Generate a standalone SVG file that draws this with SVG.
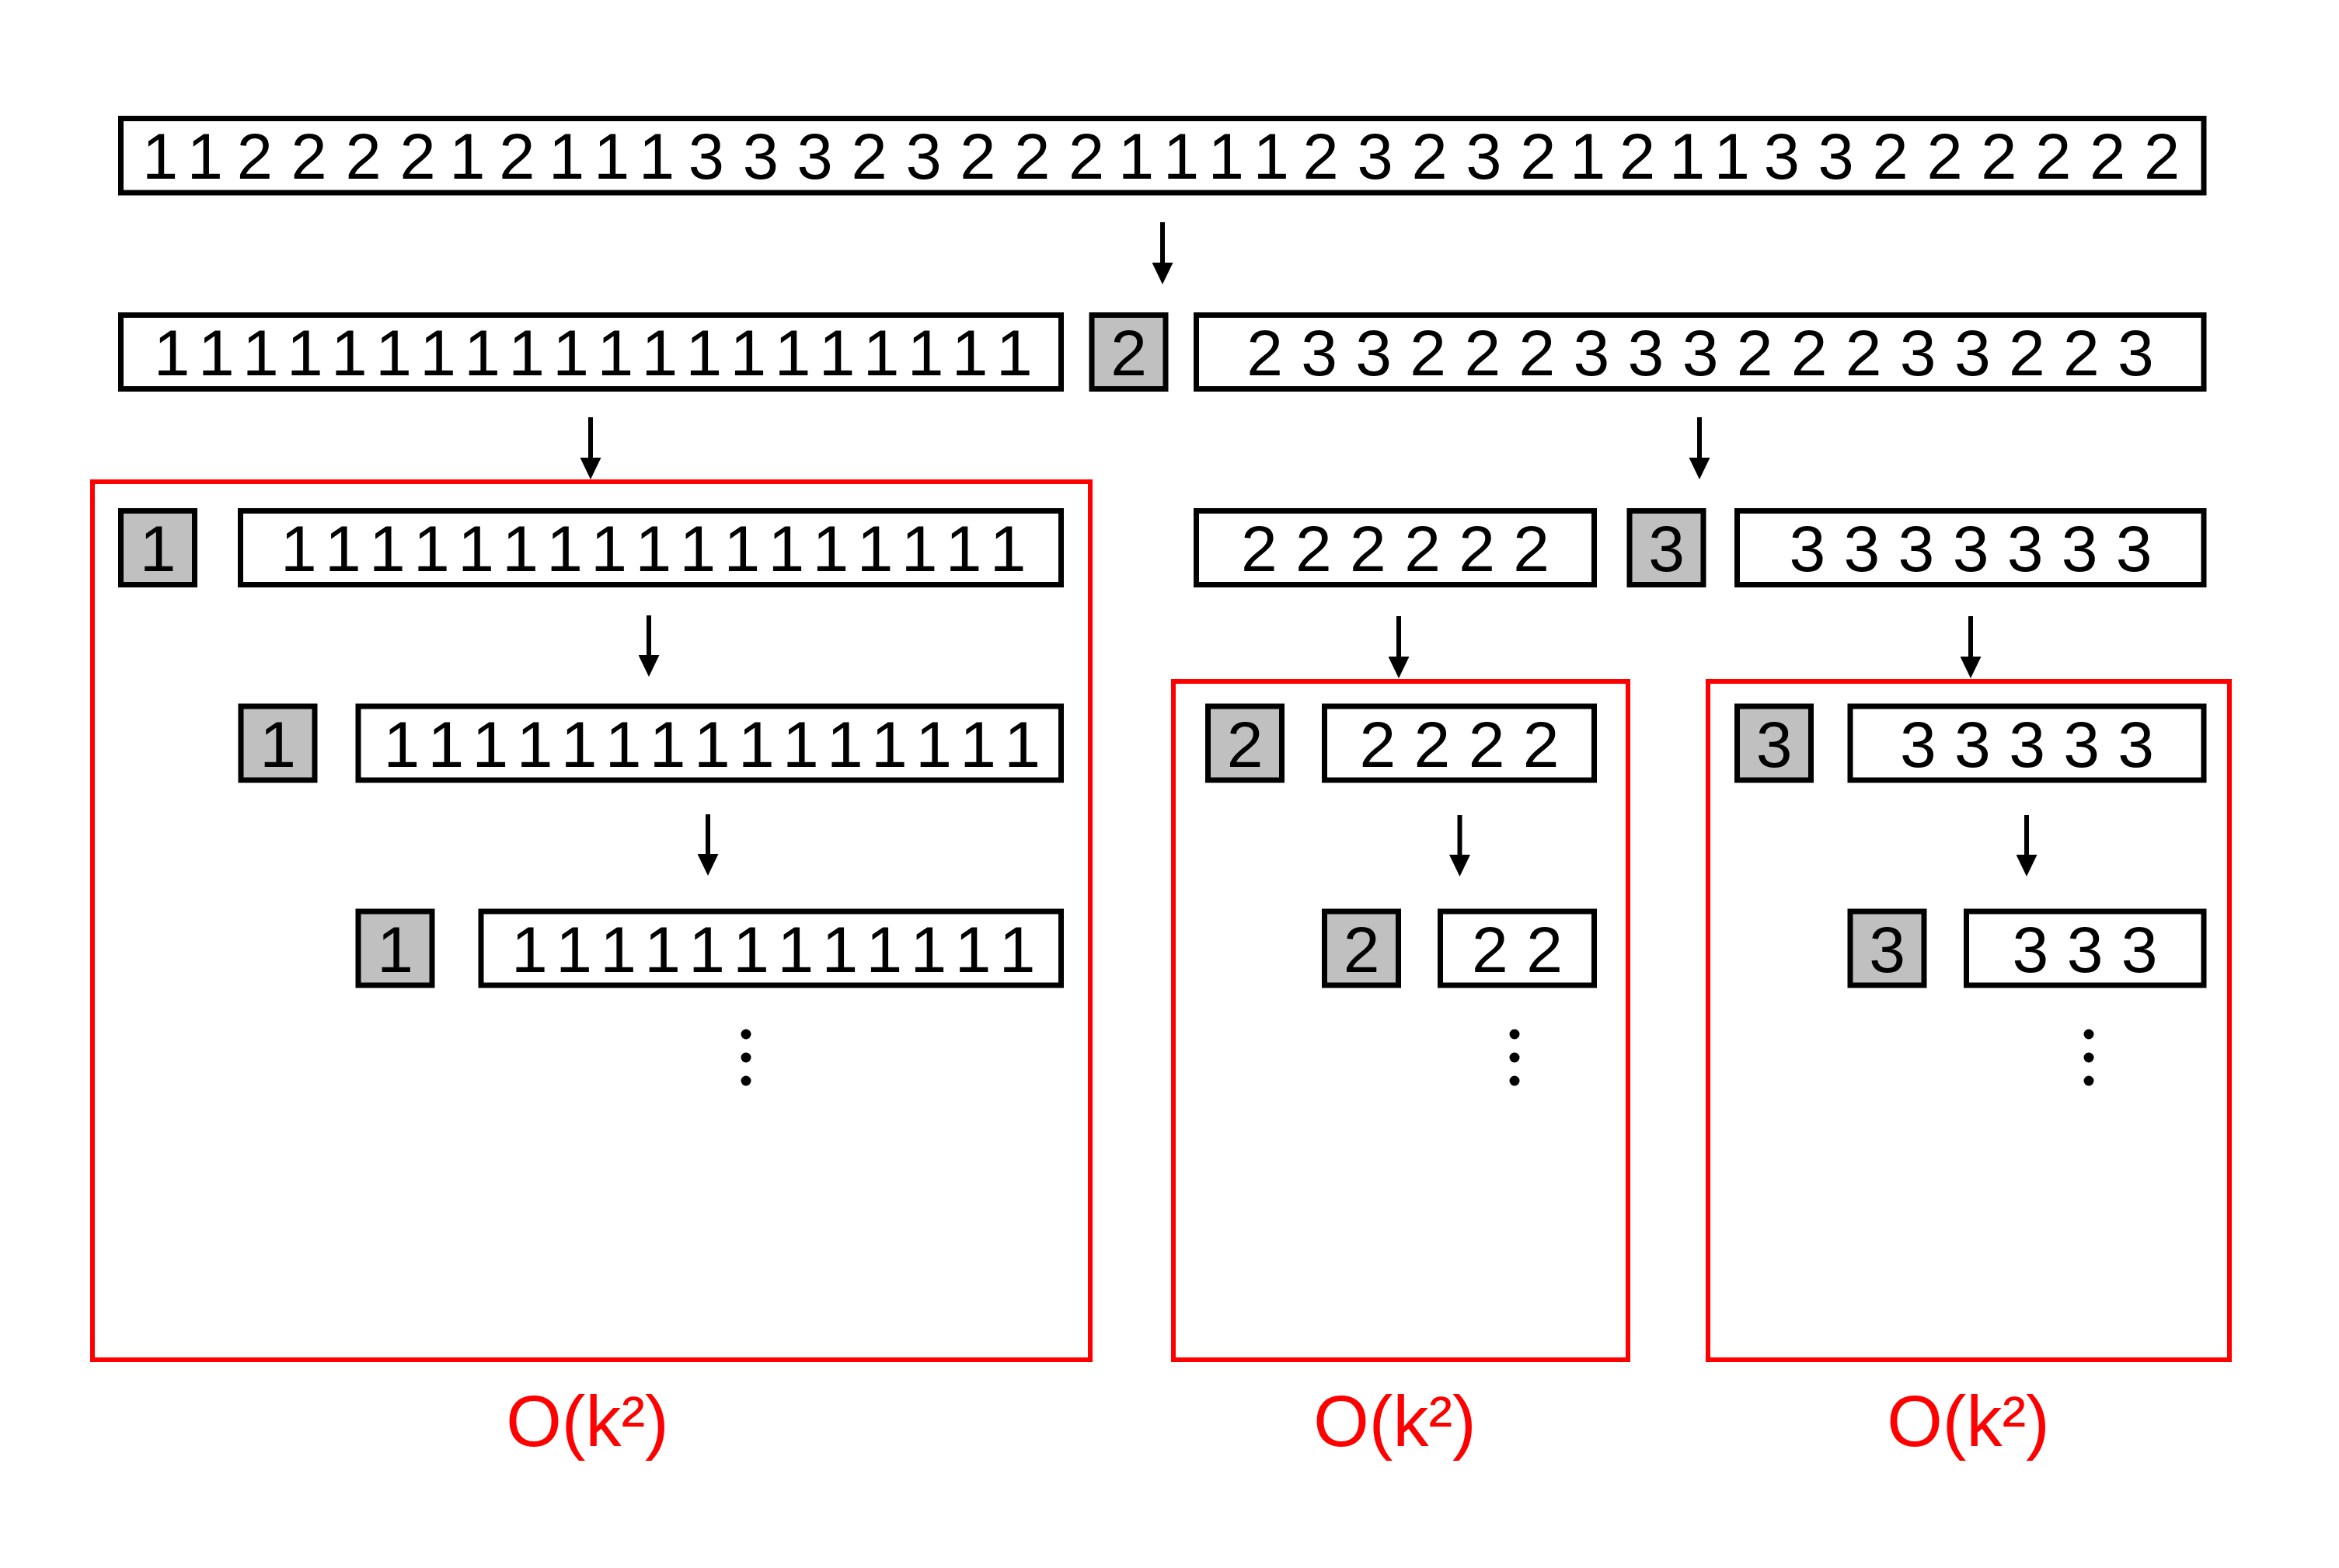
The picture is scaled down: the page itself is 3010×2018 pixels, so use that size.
<svg xmlns="http://www.w3.org/2000/svg" width="3010" height="2018" viewBox="0 0 3010 2018">
<style>
.box{fill:#fff;stroke:#000;stroke-width:7}
.pv{fill:#c0c0c0;stroke:#000;stroke-width:7}
.rb{fill:none;stroke:#f00;stroke-width:6}
.n{font-family:'Liberation Sans',Arial,Helvetica,sans-serif;font-size:84px;fill:#000;text-anchor:middle}
.o{letter-spacing:-6.5px}
.lbl{font-family:'Liberation Sans',Arial,Helvetica,sans-serif;font-size:92px;fill:#f00;text-anchor:middle}
.ar{stroke:#000;stroke-width:6;fill:none;marker-end:url(#ah)}
.dot{fill:#000}
</style>
<defs>
<marker id="ah" markerUnits="userSpaceOnUse" markerWidth="28" markerHeight="27" viewBox="0 0 28 27" refX="8" refY="13.5" orient="auto">
<path d="M0,0 L28,13.5 L0,27 Z" fill="#000"/>
</marker>
</defs>
<rect width="3010" height="2018" fill="#fff"/>

<g id="regions">
<rect id="region1" class="rb" x="119" y="620" width="1284" height="1130"/>
<rect id="region2" class="rb" x="1510" y="877" width="585" height="873"/>
<rect id="region3" class="rb" x="2198" y="877" width="671" height="873"/>
</g>

<g id="input">
<rect class="box" x="155.5" y="152.5" width="2680.5" height="95.5"/>
<text class="n" style="font-size:83px" y="230" x="206 235 263.9 295.9 327.8 362.8 397.7 432.7 467.6 502.6 537.5 569.5 601.4 633.4 665.3 697.3 729.2 758.2 787.1 816.1 845 877 908.9 943.9 978.8 1013.8 1048.7 1083.7 1118.6 1153.6 1188.5 1223.5 1258.4 1293.4 1328.3 1363.3 1398.2 1430.2 1462.1 1491.1 1520 1549 1577.9 1606.9 1635.8 1667.8 1699.7 1734.7 1769.6 1804.6 1839.5 1874.5 1909.4 1944.4 1979.3 2011.3 2043.2 2075.2 2107.1 2139.1 2171 2200 2228.9 2260.9 2292.8 2327.8 2362.7 2397.7 2432.6 2467.6 2502.5 2537.5 2572.4 2607.4 2642.3 2677.3 2712.2 2747.2 2782.1">1 1 2 2 2 2 1 2 1 1 1 3 3 3 2 3 2 2 2 1 1 1 1 2 3 2 3 2 1 2 1 1 3 3 2 2 2 2 2 2</text>
</g>

<g id="row2-left">
<rect class="box" x="155.5" y="405.5" width="1210" height="95"/>
<text class="n o" x="760" y="483">1 1 1 1 1 1 1 1 1 1 1 1 1 1 1 1 1 1 1 1</text>
</g>
<g id="row2-pivot">
<rect class="pv" x="1405" y="405.5" width="95" height="95"/>
<text class="n" x="1452.5" y="483">2</text>
</g>
<g id="row2-right">
<rect class="box" x="1539.5" y="405.5" width="1296.5" height="95"/>
<text class="n" x="2188" y="483">2 3 3 2 2 2 3 3 3 2 2 2 3 3 2 2 3</text>
</g>

<g id="l3-pivot">
<rect class="pv" x="155.5" y="657.5" width="95" height="95"/>
<text class="n" x="203" y="735">1</text>
</g>
<g id="l3-rest">
<rect class="box" x="309.5" y="657.5" width="1056" height="95"/>
<text class="n o" x="837.5" y="735">1 1 1 1 1 1 1 1 1 1 1 1 1 1 1 1 1</text>
</g>
<g id="l4-pivot">
<rect class="pv" x="310" y="909" width="95" height="95"/>
<text class="n" x="357.5" y="986.5">1</text>
</g>
<g id="l4-rest">
<rect class="box" x="461" y="909" width="904.5" height="95"/>
<text class="n o" x="913" y="986.5">1 1 1 1 1 1 1 1 1 1 1 1 1 1 1</text>
</g>
<g id="l5-pivot">
<rect class="pv" x="461" y="1173" width="95" height="95"/>
<text class="n" x="508.5" y="1250.5">1</text>
</g>
<g id="l5-rest">
<rect class="box" x="619" y="1173" width="746.5" height="95"/>
<text class="n o" x="992" y="1250.5">1 1 1 1 1 1 1 1 1 1 1 1</text>
</g>
<g id="l-more">
<circle class="dot" cx="960" cy="1331" r="6.5"/>
<circle class="dot" cx="960" cy="1361" r="6.5"/>
<circle class="dot" cx="960" cy="1391" r="6.5"/>
</g>

<g id="r3-twos">
<rect class="box" x="1539.5" y="657.5" width="512" height="95"/>
<text class="n" x="1795.5" y="735">2 2 2 2 2 2</text>
</g>
<g id="r3-pivot">
<rect class="pv" x="2097" y="657.5" width="95" height="95"/>
<text class="n" x="2144.5" y="735">3</text>
</g>
<g id="r3-threes">
<rect class="box" x="2235.5" y="657.5" width="600.5" height="95"/>
<text class="n" x="2536" y="735">3 3 3 3 3 3 3</text>
</g>

<g id="m4-pivot">
<rect class="pv" x="1554.5" y="909" width="95" height="95"/>
<text class="n" x="1602" y="986.5">2</text>
</g>
<g id="m4-rest">
<rect class="box" x="1704.5" y="909" width="347" height="95"/>
<text class="n" x="1878" y="986.5">2 2 2 2</text>
</g>
<g id="m5-pivot">
<rect class="pv" x="1704.5" y="1173" width="95" height="95"/>
<text class="n" x="1752" y="1250.5">2</text>
</g>
<g id="m5-rest">
<rect class="box" x="1853.5" y="1173" width="198" height="95"/>
<text class="n" x="1952.5" y="1250.5">2 2</text>
</g>
<g id="m-more">
<circle class="dot" cx="1949" cy="1331" r="6.5"/>
<circle class="dot" cx="1949" cy="1361" r="6.5"/>
<circle class="dot" cx="1949" cy="1391" r="6.5"/>
</g>

<g id="t4-pivot">
<rect class="pv" x="2235.5" y="909" width="95" height="95"/>
<text class="n" x="2283" y="986.5">3</text>
</g>
<g id="t4-rest">
<rect class="box" x="2381" y="909" width="455" height="95"/>
<text class="n" x="2608.5" y="986.5">3 3 3 3 3</text>
</g>
<g id="t5-pivot">
<rect class="pv" x="2381" y="1173" width="95" height="95"/>
<text class="n" x="2428.5" y="1250.5">3</text>
</g>
<g id="t5-rest">
<rect class="box" x="2530.5" y="1173" width="305.5" height="95"/>
<text class="n" x="2683" y="1250.5">3 3 3</text>
</g>
<g id="t-more">
<circle class="dot" cx="2688" cy="1331" r="6.5"/>
<circle class="dot" cx="2688" cy="1361" r="6.5"/>
<circle class="dot" cx="2688" cy="1391" r="6.5"/>
</g>

<g id="labels">
<text class="lbl" x="756" y="1861">O(k²)</text>
<text class="lbl" x="1795" y="1861">O(k²)</text>
<text class="lbl" x="2533" y="1861">O(k²)</text>
</g>

<g id="connectors">
<line class="ar" x1="1496" y1="286" x2="1496" y2="346"/>
<line class="ar" x1="760" y1="537" x2="760" y2="597"/>
<line class="ar" x1="2187" y1="537" x2="2187" y2="597"/>
<line class="ar" x1="835" y1="792" x2="835" y2="851"/>
<line class="ar" x1="911" y1="1048" x2="911" y2="1107"/>
<line class="ar" x1="1800" y1="793" x2="1800" y2="853"/>
<line class="ar" x1="2536" y1="793" x2="2536" y2="853"/>
<line class="ar" x1="1878.5" y1="1049" x2="1878.5" y2="1108"/>
<line class="ar" x1="2608" y1="1049" x2="2608" y2="1108"/>
</g>
</svg>
